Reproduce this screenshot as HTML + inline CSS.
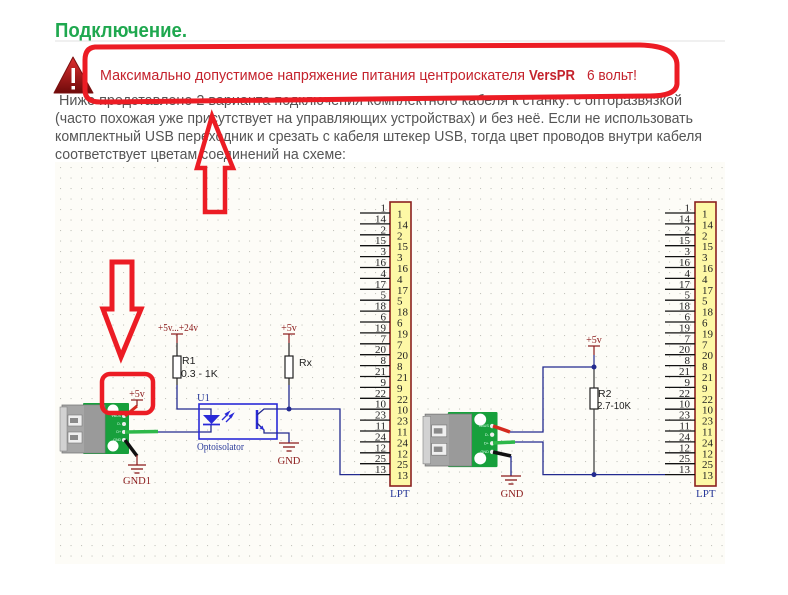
<!DOCTYPE html>
<html><head><meta charset="utf-8"><style>
html,body{margin:0;padding:0;background:#fff;}
svg{display:block;}
.p{font-family:"Liberation Sans",sans-serif;font-size:15px;fill:#555;}
.s{font-family:"Liberation Serif",serif;}
.ss{font-family:"Liberation Sans",sans-serif;font-size:10.5px;fill:#222;}
</style></head><body>
<svg width="788" height="595" viewBox="0 0 788 595" xmlns="http://www.w3.org/2000/svg">
<defs>
<pattern id="grid" x="55" y="162" width="10.5" height="10.5" patternUnits="userSpaceOnUse">
<rect x="5" y="5" width="1.1" height="1.1" fill="#c4c4bc"/>
</pattern>
<linearGradient id="warn" x1="0" y1="0" x2="0" y2="1">
<stop offset="0" stop-color="#e03030"/><stop offset="1" stop-color="#6e0a0a"/>
</linearGradient>
</defs>

<!-- header -->
<text x="55" y="37" font-family="Liberation Sans,sans-serif" font-size="20" font-weight="bold" fill="#1fa84f" textLength="132" lengthAdjust="spacingAndGlyphs">Подключение.</text>
<rect x="55" y="40.5" width="670" height="1" fill="#e2e2e2"/>

<!-- warning icon -->
<polygon points="73,57 93,93 54,93" fill="url(#warn)" stroke="#7a1010" stroke-width="1" stroke-linejoin="round"/>
<rect x="71.5" y="68" width="3.5" height="15" fill="#fff"/>
<rect x="71.5" y="86" width="3.5" height="3.5" fill="#fff"/>

<!-- red warning text -->
<g font-family="Liberation Sans,sans-serif" font-size="15" fill="#c4222c">
<text x="100" y="80" textLength="425" lengthAdjust="spacingAndGlyphs">Максимально допустимое напряжение питания центроискателя</text>
<text x="529" y="80" font-weight="bold" textLength="46" lengthAdjust="spacingAndGlyphs">VersPR</text>
<text x="587" y="80" textLength="50" lengthAdjust="spacingAndGlyphs">6 вольт!</text>
</g>

<!-- paragraph -->
<text class="p" x="59" y="105" textLength="623" lengthAdjust="spacingAndGlyphs">Ниже представлено 2 варианта подключения комплектного кабеля к станку:  с оптоpазвязкой</text>
<text class="p" x="55" y="123" textLength="638" lengthAdjust="spacingAndGlyphs">(часто похожая уже присутствует на управляющих устройствах) и без неё. Если не использовать</text>
<text class="p" x="55" y="141" textLength="647" lengthAdjust="spacingAndGlyphs">комплектный USB переходник и срезать с кабеля штекер USB, тогда цвет проводов внутри кабеля</text>
<text class="p" x="55" y="159" textLength="291" lengthAdjust="spacingAndGlyphs">соответствует цветам соединений на схеме:</text>

<!-- schematic background -->
<rect x="55" y="162" width="670" height="402" fill="#fdfcf7"/>
<rect x="55" y="162" width="670" height="402" fill="url(#grid)"/>

<!-- ===== LEFT LPT ===== -->
<rect x="390" y="202" width="21" height="284" fill="#fdf8a6" stroke="#8b2020" stroke-width="1.6"/>
<g stroke="#111" stroke-width="1.3">
<line x1="360" y1="213" x2="390" y2="213"/><line x1="360" y1="223.9" x2="390" y2="223.9"/>
<line x1="360" y1="234.8" x2="390" y2="234.8"/><line x1="360" y1="245.7" x2="390" y2="245.7"/>
<line x1="360" y1="256.6" x2="390" y2="256.6"/><line x1="360" y1="267.5" x2="390" y2="267.5"/>
<line x1="360" y1="278.4" x2="390" y2="278.4"/><line x1="360" y1="289.3" x2="390" y2="289.3"/>
<line x1="360" y1="300.2" x2="390" y2="300.2"/><line x1="360" y1="311.1" x2="390" y2="311.1"/>
<line x1="360" y1="322" x2="390" y2="322"/><line x1="360" y1="332.9" x2="390" y2="332.9"/>
<line x1="360" y1="343.8" x2="390" y2="343.8"/><line x1="360" y1="354.7" x2="390" y2="354.7"/>
<line x1="360" y1="365.6" x2="390" y2="365.6"/><line x1="360" y1="376.5" x2="390" y2="376.5"/>
<line x1="360" y1="387.4" x2="390" y2="387.4"/><line x1="360" y1="398.3" x2="390" y2="398.3"/>
<line x1="360" y1="409.2" x2="390" y2="409.2"/><line x1="360" y1="420.1" x2="390" y2="420.1"/>
<line x1="360" y1="431" x2="390" y2="431"/><line x1="360" y1="441.9" x2="390" y2="441.9"/>
<line x1="360" y1="452.8" x2="390" y2="452.8"/><line x1="360" y1="463.7" x2="390" y2="463.7"/>
<line x1="360" y1="474.6" x2="390" y2="474.6"/>
</g>
<g class="s" font-size="11" fill="#222" text-anchor="end">
<text x="386" y="211.5">1</text><text x="386" y="222.4">14</text><text x="386" y="233.3">2</text><text x="386" y="244.2">15</text>
<text x="386" y="255.1">3</text><text x="386" y="266">16</text><text x="386" y="276.9">4</text><text x="386" y="287.8">17</text>
<text x="386" y="298.7">5</text><text x="386" y="309.6">18</text><text x="386" y="320.5">6</text><text x="386" y="331.4">19</text>
<text x="386" y="342.3">7</text><text x="386" y="353.2">20</text><text x="386" y="364.1">8</text><text x="386" y="375">21</text>
<text x="386" y="385.9">9</text><text x="386" y="396.8">22</text><text x="386" y="407.7">10</text><text x="386" y="418.6">23</text>
<text x="386" y="429.5">11</text><text x="386" y="440.4">24</text><text x="386" y="451.3">12</text><text x="386" y="462.2">25</text>
<text x="386" y="473.1">13</text>
</g>
<g class="s" font-size="11" fill="#222">
<text x="397" y="217.5">1</text><text x="397" y="228.4">14</text><text x="397" y="239.3">2</text><text x="397" y="250.2">15</text>
<text x="397" y="261.1">3</text><text x="397" y="272">16</text><text x="397" y="282.9">4</text><text x="397" y="293.8">17</text>
<text x="397" y="304.7">5</text><text x="397" y="315.6">18</text><text x="397" y="326.5">6</text><text x="397" y="337.4">19</text>
<text x="397" y="348.3">7</text><text x="397" y="359.2">20</text><text x="397" y="370.1">8</text><text x="397" y="381">21</text>
<text x="397" y="391.9">9</text><text x="397" y="402.8">22</text><text x="397" y="413.7">10</text><text x="397" y="424.6">23</text>
<text x="397" y="435.5">11</text><text x="397" y="446.4">24</text><text x="397" y="457.3">12</text><text x="397" y="468.2">25</text>
<text x="397" y="479.1">13</text>
</g>
<text class="s" x="390" y="497" font-size="11" fill="#2a3a9a">LPT</text>

<!-- ===== RIGHT LPT ===== -->
<rect x="695" y="202" width="21" height="284" fill="#fdf8a6" stroke="#8b2020" stroke-width="1.6"/>
<g stroke="#111" stroke-width="1.3">
<line x1="665" y1="213" x2="695" y2="213"/><line x1="665" y1="223.9" x2="695" y2="223.9"/>
<line x1="665" y1="234.8" x2="695" y2="234.8"/><line x1="665" y1="245.7" x2="695" y2="245.7"/>
<line x1="665" y1="256.6" x2="695" y2="256.6"/><line x1="665" y1="267.5" x2="695" y2="267.5"/>
<line x1="665" y1="278.4" x2="695" y2="278.4"/><line x1="665" y1="289.3" x2="695" y2="289.3"/>
<line x1="665" y1="300.2" x2="695" y2="300.2"/><line x1="665" y1="311.1" x2="695" y2="311.1"/>
<line x1="665" y1="322" x2="695" y2="322"/><line x1="665" y1="332.9" x2="695" y2="332.9"/>
<line x1="665" y1="343.8" x2="695" y2="343.8"/><line x1="665" y1="354.7" x2="695" y2="354.7"/>
<line x1="665" y1="365.6" x2="695" y2="365.6"/><line x1="665" y1="376.5" x2="695" y2="376.5"/>
<line x1="665" y1="387.4" x2="695" y2="387.4"/><line x1="665" y1="398.3" x2="695" y2="398.3"/>
<line x1="665" y1="409.2" x2="695" y2="409.2"/><line x1="665" y1="420.1" x2="695" y2="420.1"/>
<line x1="665" y1="431" x2="695" y2="431"/><line x1="665" y1="441.9" x2="695" y2="441.9"/>
<line x1="665" y1="452.8" x2="695" y2="452.8"/><line x1="665" y1="463.7" x2="695" y2="463.7"/>
<line x1="665" y1="474.6" x2="695" y2="474.6"/>
</g>
<g class="s" font-size="11" fill="#222" text-anchor="end">
<text x="690" y="211.5">1</text><text x="690" y="222.4">14</text><text x="690" y="233.3">2</text><text x="690" y="244.2">15</text>
<text x="690" y="255.1">3</text><text x="690" y="266">16</text><text x="690" y="276.9">4</text><text x="690" y="287.8">17</text>
<text x="690" y="298.7">5</text><text x="690" y="309.6">18</text><text x="690" y="320.5">6</text><text x="690" y="331.4">19</text>
<text x="690" y="342.3">7</text><text x="690" y="353.2">20</text><text x="690" y="364.1">8</text><text x="690" y="375">21</text>
<text x="690" y="385.9">9</text><text x="690" y="396.8">22</text><text x="690" y="407.7">10</text><text x="690" y="418.6">23</text>
<text x="690" y="429.5">11</text><text x="690" y="440.4">24</text><text x="690" y="451.3">12</text><text x="690" y="462.2">25</text>
<text x="690" y="473.1">13</text>
</g>
<g class="s" font-size="11" fill="#222">
<text x="702" y="217.5">1</text><text x="702" y="228.4">14</text><text x="702" y="239.3">2</text><text x="702" y="250.2">15</text>
<text x="702" y="261.1">3</text><text x="702" y="272">16</text><text x="702" y="282.9">4</text><text x="702" y="293.8">17</text>
<text x="702" y="304.7">5</text><text x="702" y="315.6">18</text><text x="702" y="326.5">6</text><text x="702" y="337.4">19</text>
<text x="702" y="348.3">7</text><text x="702" y="359.2">20</text><text x="702" y="370.1">8</text><text x="702" y="381">21</text>
<text x="702" y="391.9">9</text><text x="702" y="402.8">22</text><text x="702" y="413.7">10</text><text x="702" y="424.6">23</text>
<text x="702" y="435.5">11</text><text x="702" y="446.4">24</text><text x="702" y="457.3">12</text><text x="702" y="468.2">25</text>
<text x="702" y="479.1">13</text>
</g>
<text class="s" x="696" y="497" font-size="11" fill="#2a3a9a">LPT</text>

<!-- ===== LEFT SCHEMATIC ===== -->
<!-- USB module left -->
<g transform="translate(60,403)">
<rect x="23" y="0" width="46" height="51" fill="#17a03c" rx="1"/>
<rect x="2" y="2" width="43" height="48" fill="#a6a6a6" stroke="#7a7a7a" stroke-width="0.8"/>
<rect x="24" y="3" width="20" height="46" fill="#9a9a9a"/>
<rect x="0" y="4" width="7" height="44" fill="#d2d2d2" stroke="#888" stroke-width="0.6"/>
<rect x="8" y="12" width="14" height="11" fill="#efefef" stroke="#777" stroke-width="0.6"/>
<rect x="10" y="15" width="8" height="5" fill="#8a8a8a"/>
<rect x="8" y="29" width="14" height="11" fill="#efefef" stroke="#777" stroke-width="0.6"/>
<rect x="10" y="32" width="8" height="5" fill="#8a8a8a"/>
<circle cx="53" cy="7" r="5.5" fill="#fff"/>
<circle cx="53" cy="43" r="5.5" fill="#fff"/>
<circle cx="64" cy="13" r="2" fill="#eee"/><circle cx="64" cy="21" r="2" fill="#eee"/>
<circle cx="64" cy="29" r="2" fill="#eee"/><circle cx="64" cy="37" r="2" fill="#eee"/>
<g font-family="Liberation Sans,sans-serif" font-size="3.5" fill="#dfe" text-anchor="end">
<text x="61" y="14">VBUS</text><text x="61" y="22">D-</text><text x="61" y="30">D+</text><text x="61" y="38">GND</text></g>
</g>
<line x1="125" y1="416" x2="137" y2="406" stroke="#d42a1f" stroke-width="3"/>
<line x1="125" y1="432" x2="158" y2="431.5" stroke="#2eb84a" stroke-width="3.5"/>
<line x1="125" y1="440" x2="137" y2="456" stroke="#111" stroke-width="3.5"/>

<!-- left +5v -->
<text class="s" x="137" y="397" font-size="10" fill="#8b1a1a" text-anchor="middle">+5v</text>
<line x1="131" y1="400" x2="143" y2="400" stroke="#8b1a1a" stroke-width="1.2"/>
<line x1="137" y1="400" x2="137" y2="406" stroke="#8b1a1a" stroke-width="1.2"/>
<!-- GND1 -->
<line x1="137" y1="455" x2="137" y2="465" stroke="#8b1a1a" stroke-width="1.2"/>
<g stroke="#8b1a1a" stroke-width="1.3">
<line x1="128" y1="465" x2="146" y2="465"/><line x1="131" y1="469" x2="143" y2="469"/><line x1="134.5" y1="473" x2="139.5" y2="473"/></g>
<text class="s" x="137" y="484" font-size="10.5" fill="#8b1a1a" text-anchor="middle">GND1</text>

<!-- blue wire from green to LED -->
<path d="M158,432 H211 V424" fill="none" stroke="#232a8f" stroke-width="1.3"/>

<!-- R1 -->
<text class="s" x="158" y="331" font-size="10" fill="#8b1a1a" textLength="40" lengthAdjust="spacingAndGlyphs">+5v...+24v</text>
<line x1="171" y1="334" x2="183" y2="334" stroke="#8b1a1a" stroke-width="1.2"/>
<line x1="177" y1="334" x2="177" y2="343" stroke="#8b1a1a" stroke-width="1.2"/>
<line x1="177" y1="343" x2="177" y2="356" stroke="#222" stroke-width="1.2"/>
<rect x="173" y="356" width="8" height="22" fill="#fff" stroke="#222" stroke-width="1.2"/>
<line x1="177" y1="378" x2="177" y2="385" stroke="#222" stroke-width="1.2"/>
<path d="M177,385 V409 H211 V415" fill="none" stroke="#232a8f" stroke-width="1.3"/>
<text class="ss" x="182" y="364">R1</text>
<text class="ss" x="181" y="377">0.3 - 1K</text>

<!-- Rx -->
<text class="s" x="289" y="331" font-size="10" fill="#8b1a1a" text-anchor="middle">+5v</text>
<line x1="283" y1="334" x2="295" y2="334" stroke="#8b1a1a" stroke-width="1.2"/>
<line x1="289" y1="334" x2="289" y2="343" stroke="#8b1a1a" stroke-width="1.2"/>
<line x1="289" y1="343" x2="289" y2="356" stroke="#222" stroke-width="1.2"/>
<rect x="285" y="356" width="8" height="22" fill="#fff" stroke="#222" stroke-width="1.2"/>
<line x1="289" y1="378" x2="289" y2="385" stroke="#222" stroke-width="1.2"/>
<text class="ss" x="299" y="366">Rx</text>

<!-- optoisolator -->
<text class="s" x="197" y="401" font-size="10.5" fill="#2a3a9a">U1</text>
<rect x="199" y="404" width="78" height="35" fill="none" stroke="#2a2ad8" stroke-width="1.6"/>
<polygon points="203,415 220,415 211.5,424" fill="#2a2ad8"/>
<line x1="203" y1="424.5" x2="220" y2="424.5" stroke="#2a2ad8" stroke-width="1.8"/>
<g stroke="#2a2ad8" stroke-width="1.3" fill="#2a2ad8">
<line x1="222" y1="420" x2="228" y2="414"/><polygon points="229,412 225.5,414 227,415.5"/>
<line x1="226" y1="422" x2="232" y2="416"/><polygon points="233,414 229.5,416 231,417.5"/>
</g>
<line x1="257" y1="410" x2="257" y2="429" stroke="#2a2ad8" stroke-width="2.5"/>
<path d="M257,415 L264,409 H289" fill="none" stroke="#232a8f" stroke-width="1.3"/>
<path d="M257,423 L264,430 V433 H289 V443" fill="none" stroke="#232a8f" stroke-width="1.3"/>
<polygon points="264,430 259.5,428.5 262.5,425.5" fill="#2a2ad8"/>
<text class="s" x="197" y="450" font-size="10.5" fill="#2a3a9a" textLength="47" lengthAdjust="spacingAndGlyphs">Optoisolator</text>
<!-- opto GND -->
<g stroke="#8b1a1a" stroke-width="1.3">
<line x1="279" y1="443" x2="299" y2="443"/><line x1="283" y1="447" x2="295" y2="447"/><line x1="286.5" y1="451" x2="291.5" y2="451"/></g>
<text class="s" x="289" y="464" font-size="10.5" fill="#8b1a1a" text-anchor="middle">GND</text>

<!-- Rx to LPT wire -->
<path d="M289,385 V409 H340 V474.6 H360" fill="none" stroke="#232a8f" stroke-width="1.3"/>
<circle cx="289" cy="409" r="2.5" fill="#232a8f"/>

<!-- ===== RIGHT SCHEMATIC ===== -->
<g transform="translate(423,412) scale(1.08)">
<rect x="23" y="0" width="46" height="51" fill="#17a03c" rx="1"/>
<rect x="2" y="2" width="43" height="48" fill="#a6a6a6" stroke="#7a7a7a" stroke-width="0.8"/>
<rect x="24" y="3" width="20" height="46" fill="#9a9a9a"/>
<rect x="0" y="4" width="7" height="44" fill="#d2d2d2" stroke="#888" stroke-width="0.6"/>
<rect x="8" y="12" width="14" height="11" fill="#efefef" stroke="#777" stroke-width="0.6"/>
<rect x="10" y="15" width="8" height="5" fill="#8a8a8a"/>
<rect x="8" y="29" width="14" height="11" fill="#efefef" stroke="#777" stroke-width="0.6"/>
<rect x="10" y="32" width="8" height="5" fill="#8a8a8a"/>
<circle cx="53" cy="7" r="5.5" fill="#fff"/>
<circle cx="53" cy="43" r="5.5" fill="#fff"/>
<circle cx="64" cy="13" r="2" fill="#eee"/><circle cx="64" cy="21" r="2" fill="#eee"/>
<circle cx="64" cy="29" r="2" fill="#eee"/><circle cx="64" cy="37" r="2" fill="#eee"/>
<g font-family="Liberation Sans,sans-serif" font-size="3.5" fill="#dfe" text-anchor="end">
<text x="61" y="14">VBUS</text><text x="61" y="22">D-</text><text x="61" y="30">D+</text><text x="61" y="38">GND</text></g>
</g>
<line x1="493" y1="426" x2="510" y2="432" stroke="#d42a1f" stroke-width="3.5"/>
<line x1="493" y1="443" x2="515" y2="442" stroke="#2eb84a" stroke-width="3.5"/>
<line x1="493" y1="452" x2="511" y2="456" stroke="#111" stroke-width="3.5"/>

<path d="M510,432 H543 V367 H594" fill="none" stroke="#232a8f" stroke-width="1.3"/>
<path d="M515,442 H543 V474.6 H665" fill="none" stroke="#232a8f" stroke-width="1.3"/>
<line x1="511" y1="456" x2="511" y2="476" stroke="#232a8f" stroke-width="1.3"/>
<g stroke="#8b1a1a" stroke-width="1.3">
<line x1="501" y1="476" x2="521" y2="476"/><line x1="505" y1="480" x2="517" y2="480"/><line x1="508.5" y1="484" x2="513.5" y2="484"/></g>
<text class="s" x="512" y="497" font-size="10.5" fill="#8b1a1a" text-anchor="middle">GND</text>

<text class="s" x="594" y="343" font-size="10" fill="#8b1a1a" text-anchor="middle">+5v</text>
<line x1="588" y1="346" x2="600" y2="346" stroke="#8b1a1a" stroke-width="1.2"/>
<line x1="594" y1="346" x2="594" y2="355" stroke="#8b1a1a" stroke-width="1.2"/>
<line x1="594" y1="355" x2="594" y2="367" stroke="#232a8f" stroke-width="1.2"/>
<line x1="594" y1="367" x2="594" y2="388" stroke="#333" stroke-width="1.2"/>
<rect x="590" y="388" width="8" height="21" fill="#fff" stroke="#222" stroke-width="1.2"/>
<line x1="594" y1="409" x2="594" y2="474.6" stroke="#333" stroke-width="1.2"/>
<circle cx="594" cy="367" r="2.5" fill="#232a8f"/>
<circle cx="594" cy="474.6" r="2.5" fill="#232a8f"/>
<text class="ss" x="598" y="397">R2</text>
<text class="ss" x="597" y="409" textLength="34" lengthAdjust="spacingAndGlyphs">2.7-10K</text>

<!-- ===== RED ANNOTATIONS ===== -->
<path d="M95,47 L640,45 Q677,46 677,65 L677,84 Q676,96 650,96 L100,102 Q85,102 85,90 L85,60 Q85,48 95,47 Z" fill="none" stroke="#ec1c24" stroke-width="5" stroke-linejoin="round"/>
<polygon points="212,116 233,168 225,168 225,212 205,212 205,168 197,168" fill="none" stroke="#ec1c24" stroke-width="4.5" stroke-linejoin="miter"/>
<polygon points="112,262 132,262 132,309 141,309 121,357 103,309 112,309" fill="none" stroke="#ec1c24" stroke-width="5" stroke-linejoin="miter"/>
<rect x="102" y="374" width="51" height="39" rx="8" fill="none" stroke="#ec1c24" stroke-width="4.5"/>
</svg>
</body></html>
